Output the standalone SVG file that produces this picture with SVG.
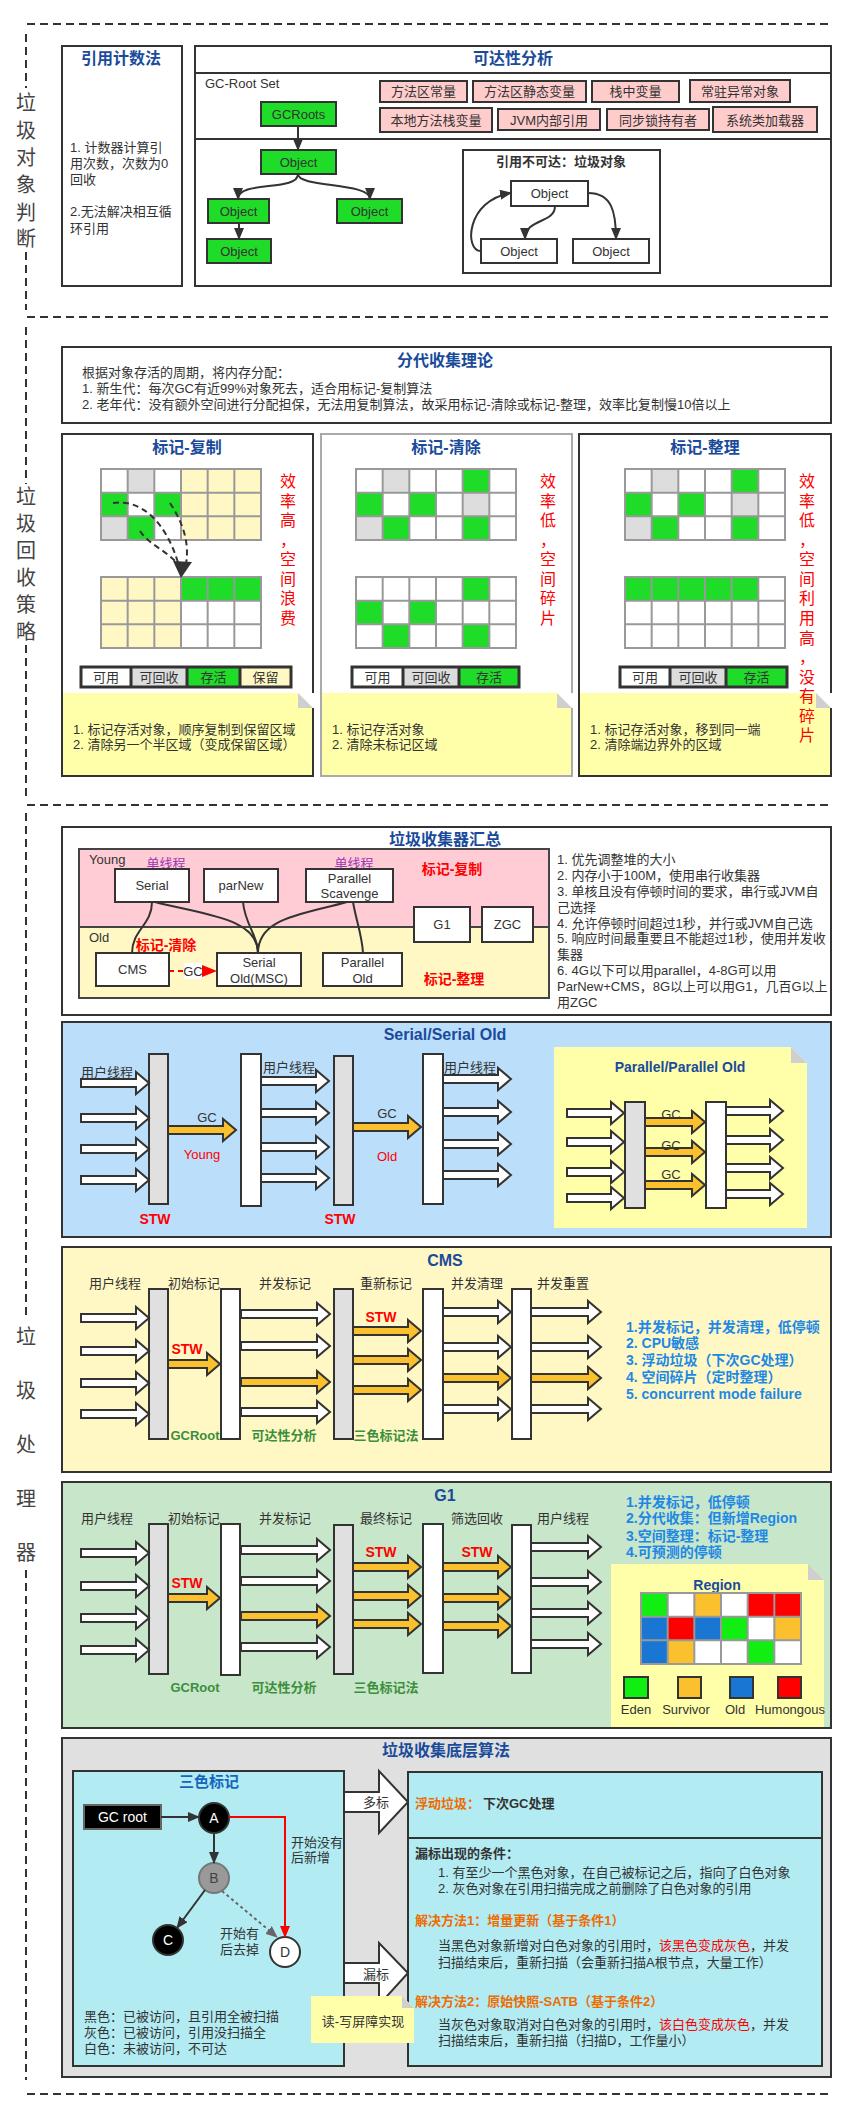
<svg xmlns="http://www.w3.org/2000/svg" width="857" height="2119" viewBox="0 0 857 2119">
<style>
text{font-family:"Liberation Sans","Noto Sans CJK SC",sans-serif;font-size:13px;fill:#333}
.ttl{font-size:16px;font-weight:bold;fill:#1A4B9B;text-anchor:middle}
.c{text-anchor:middle}
.b{font-weight:bold}
.box{fill:#fff;stroke:#333;stroke-width:2}
.pk{fill:#FFCCCC;stroke:#333;stroke-width:2}
.gn{fill:#1EDC28;stroke:#333;stroke-width:2}
.red{fill:#FF0000}
.stw{fill:#FF0000;font-weight:bold;font-size:14px;text-anchor:middle}
.vt{font-size:20px;fill:#444;text-anchor:middle}
.rv{font-size:16px;fill:#FF0000;text-anchor:middle}
.sep{stroke:#333;stroke-width:2;stroke-dasharray:8 5;fill:none}
.bg{fill:#E0E0E0;stroke:#333;stroke-width:2}
.bw{fill:#fff;stroke:#333;stroke-width:2}
.ln{fill:none;stroke:#333;stroke-width:2}
.note{fill:#FFFFAA}
.fold{fill:#CFCFCF}
.grn{fill:#3C8F3C;font-weight:bold;text-anchor:middle}
.blu{fill:#1E88E5;font-weight:bold;font-size:14px}
.or{fill:#EF6C00;font-weight:bold}
.cg{fill:#1EDC28}
.cy{fill:#FFF8C4}
.cd{fill:#DDDDDD}
.pur{fill:#9C36B5;text-anchor:middle}
</style>
<defs>
<marker id="ah" viewBox="0 0 12 10" refX="11" refY="5" markerWidth="12" markerHeight="10" markerUnits="userSpaceOnUse" orient="auto"><path d="M0,0 L12,5 L0,10 Z" fill="#333"/></marker>
<marker id="ahr" viewBox="0 0 12 10" refX="11" refY="5" markerWidth="12" markerHeight="10" markerUnits="userSpaceOnUse" orient="auto"><path d="M0,0 L12,5 L0,10 Z" fill="#FF0000"/></marker>
<marker id="ahg" viewBox="0 0 12 10" refX="11" refY="5" markerWidth="12" markerHeight="10" markerUnits="userSpaceOnUse" orient="auto"><path d="M0,0 L12,5 L0,10 Z" fill="#666"/></marker>
<path id="H68" d="M0,-4H55V-11L68,0L55,11V4H0Z" fill="#fff" stroke="#333" stroke-width="2"/>
<path id="H57" d="M0,-4H44V-11L57,0L44,11V4H0Z" fill="#fff" stroke="#333" stroke-width="2"/>
<path id="H89" d="M0,-4H76V-11L89,0L76,11V4H0Z" fill="#fff" stroke="#333" stroke-width="2"/>
<path id="H70" d="M0,-4H57V-11L70,0L57,11V4H0Z" fill="#fff" stroke="#333" stroke-width="2"/>
<path id="O68" d="M0,-4H55V-11L68,0L55,11V4H0Z" fill="#FBC02D" stroke="#333" stroke-width="2"/>
<path id="O52" d="M0,-4H39V-11L52,0L39,11V4H0Z" fill="#FBC02D" stroke="#333" stroke-width="2"/>
<path id="O60" d="M0,-4H47V-11L60,0L47,11V4H0Z" fill="#FBC02D" stroke="#333" stroke-width="2"/>
<path id="O89" d="M0,-4H76V-11L89,0L76,11V4H0Z" fill="#FBC02D" stroke="#333" stroke-width="2"/>
<path id="O70" d="M0,-4H57V-11L70,0L57,11V4H0Z" fill="#FBC02D" stroke="#333" stroke-width="2"/>
<path id="GL" d="M0,0H160V71H0Z M26.67,0V71 M53.33,0V71 M80,0V71 M106.67,0V71 M133.33,0V71 M0,23.67H160 M0,47.33H160" fill="none" stroke="#999" stroke-width="2"/>
</defs>

<!-- separators -->
<g id="separators">
<path class="sep" d="M27,24H831 M27,317H831 M27,805H831 M27,2094H831"/>
<path class="sep" d="M26,34V88 M26,252V310 M26,327V484 M26,645V800 M26,813V1318 M26,1570V2080"/>
<text class="vt"><tspan x="26" y="110">垃</tspan><tspan x="26" y="138">圾</tspan><tspan x="26" y="165">对</tspan><tspan x="26" y="192">象</tspan><tspan x="26" y="220">判</tspan><tspan x="26" y="246">断</tspan></text>
<text class="vt"><tspan x="26" y="504">垃</tspan><tspan x="26" y="531">圾</tspan><tspan x="26" y="558">回</tspan><tspan x="26" y="585">收</tspan><tspan x="26" y="612">策</tspan><tspan x="26" y="639">略</tspan></text>
<text class="vt"><tspan x="26" y="1344">垃</tspan><tspan x="26" y="1398">圾</tspan><tspan x="26" y="1452">处</tspan><tspan x="26" y="1506">理</tspan><tspan x="26" y="1560">器</tspan></text>
</g>

<!-- ===== Section 1 ===== -->
<g id="refcount">
<rect class="box" x="62" y="46" width="120" height="240"/>
<text class="ttl" x="121" y="64">引用计数法</text>
<text x="70" y="152">1. 计数器计算引</text>
<text x="70" y="168">用次数，次数为0</text>
<text x="70" y="184">回收</text>
<text x="70" y="216">2.无法解决相互循</text>
<text x="70" y="233">环引用</text>
</g>
<g id="reachability">
<rect class="box" x="195" y="46" width="636" height="240"/>
<path class="ln" d="M195,73H831 M195,139H831"/>
<text class="ttl" x="513" y="64">可达性分析</text>
<text x="205" y="88">GC-Root Set</text>
</g>
<g id="roots">
<rect class="pk" x="380" y="81" width="87" height="21"/><text class="c" x="423.5" y="96">方法区常量</text>
<rect class="pk" x="473" y="81" width="113" height="21"/><text class="c" x="529.5" y="96">方法区静态变量</text>
<rect class="pk" x="592" y="81" width="87" height="21"/><text class="c" x="635.5" y="96">栈中变量</text>
<rect class="pk" x="690" y="80" width="100" height="22"/><text class="c" x="740" y="96">常驻异常对象</text>
<rect class="pk" x="380" y="108" width="112" height="24"/><text class="c" x="436" y="125">本地方法栈变量</text>
<rect class="pk" x="498" y="109" width="102" height="21"/><text class="c" x="549" y="125">JVM内部引用</text>
<rect class="pk" x="607" y="109" width="102" height="21"/><text class="c" x="658" y="125">同步锁持有者</text>
<rect class="pk" x="713" y="107" width="104" height="25"/><text class="c" x="765" y="125">系统类加载器</text>
</g>
<g id="gcroots"><rect class="gn" x="261" y="102" width="75" height="24"/><text class="c" x="298.5" y="119">GCRoots</text></g>
<g id="obj1"><rect class="gn" x="261" y="150" width="75" height="24"/><text class="c" x="298.5" y="167">Object</text></g>
<g id="obj2"><rect class="gn" x="208" y="199" width="61" height="24"/><text class="c" x="238.5" y="216">Object</text></g>
<g id="obj3"><rect class="gn" x="337" y="199" width="65" height="24"/><text class="c" x="369.5" y="216">Object</text></g>
<g id="obj4"><rect class="gn" x="207" y="239" width="64" height="24"/><text class="c" x="239" y="256">Object</text></g>
<g id="unreachable">
<rect class="box" x="463" y="150" width="197" height="123"/>
<text class="c b" x="561" y="166">引用不可达：垃圾对象</text>
</g>
<g id="uobj1"><rect class="bw" x="511" y="181" width="77" height="25"/><text class="c" x="549.5" y="198">Object</text></g>
<g id="uobj2"><rect class="bw" x="481" y="239" width="76" height="24"/><text class="c" x="519" y="256">Object</text></g>
<g id="uobj3"><rect class="bw" x="573" y="239" width="76" height="24"/><text class="c" x="611" y="256">Object</text></g>
<g id="connectors1" class="ln">
<path class="ln" marker-end="url(#ah)" d="M298,126V150"/>
<path class="ln" marker-end="url(#ah)" d="M298,174C298,192 238,180 238,199"/>
<path class="ln" marker-end="url(#ah)" d="M298,174C298,188 370,182 370,199"/>
<path class="ln" marker-end="url(#ah)" d="M239,223V239"/>
<path class="ln" marker-end="url(#ah)" d="M555,206C555,224 525,218 525,239"/>
<path class="ln" marker-end="url(#ah)" d="M588,193C612,193 616,212 616,239"/>
<path class="ln" marker-end="url(#ah)" d="M481,251C464,251 466,200 511,193"/>
</g>

<!-- ===== Section 2 ===== -->
<g id="generational">
<rect class="box" x="62" y="347" width="769" height="76"/>
<text class="ttl" x="445" y="366">分代收集理论</text>
<text x="82" y="377">根据对象存活的周期，将内存分配：</text>
<text x="82" y="393">1. 新生代：每次GC有近99%对象死去，适合用标记-复制算法</text>
<text x="82" y="409">2. 老年代：没有额外空间进行分配担保，无法用复制算法，故采用标记-清除或标记-整理，效率比复制慢10倍以上</text>
</g>

<g id="markcopy">
<rect x="62" y="434" width="251" height="342" fill="#fff"/>
<text class="ttl" x="187" y="453">标记-复制</text>
<rect x="101" y="469" width="160" height="71" fill="#fff"/>
<rect class="cy" x="181" y="469" width="80" height="71"/>
<rect class="cd" x="127.67" y="469" width="26.67" height="23.67"/>
<rect class="cg" x="101" y="492.67" width="26.67" height="23.67"/>
<rect class="cg" x="154.33" y="492.67" width="26.67" height="23.67"/>
<rect class="cd" x="101" y="516.33" width="26.67" height="23.67"/>
<rect class="cg" x="127.67" y="516.33" width="26.67" height="23.67"/>
<use href="#GL" x="101" y="469"/>
<rect x="101" y="577" width="160" height="71" fill="#fff"/>
<rect class="cy" x="101" y="577" width="80" height="71"/>
<rect class="cg" x="181" y="577" width="80" height="23.67"/>
<use href="#GL" x="101" y="577"/>
<g fill="none" stroke="#333" stroke-width="2" stroke-dasharray="6 4">
<path d="M113,503C140,499 166,520 179,566"/>
<path d="M140,531C150,546 170,552 179,566"/>
<path d="M170,503C181,520 190,540 186,564"/>
</g>
<polygon points="181,578 173,561 192,562" fill="#333"/>
<text class="rv"><tspan x="288" y="487">效</tspan><tspan x="288" y="507">率</tspan><tspan x="288" y="526">高</tspan><tspan x="288" y="546">，</tspan><tspan x="288" y="565">空</tspan><tspan x="288" y="585">间</tspan><tspan x="288" y="604">浪</tspan><tspan x="288" y="624">费</tspan></text>
<rect x="81" y="667" width="50" height="20" fill="#fff"/>
<rect class="cd" x="131" y="667" width="56" height="20"/>
<rect class="cg" x="187" y="667" width="53" height="20"/>
<rect class="cy" x="240" y="667" width="51" height="20"/>
<path d="M81,667H291V687H81Z M131,667V687 M187,667V687 M240,667V687" fill="none" stroke="#333" stroke-width="3"/>
<text class="c" x="106" y="682">可用</text>
<text class="c" x="159" y="682">可回收</text>
<text class="c" x="213.5" y="682">存活</text>
<text class="c" x="265.5" y="682">保留</text>
<path class="note" d="M62,693H298L313,708V776H62Z"/>
<path class="fold" d="M298,693V708H313Z"/>
<path class="ln" d="M313,708V776H62V434H313V693"/>
<text x="73" y="734">1. 标记存活对象，顺序复制到保留区域</text>
<text x="73" y="749">2. 清除另一个半区域（变成保留区域）</text>
</g>

<g id="marksweep">
<rect x="321" y="434" width="251" height="342" fill="#fff"/>
<text class="ttl" x="446" y="453">标记-清除</text>
<rect x="356" y="469" width="160" height="71" fill="#fff"/>
<rect class="cd" x="382.67" y="469" width="26.67" height="23.67"/>
<rect class="cg" x="462.67" y="469" width="26.67" height="23.67"/>
<rect class="cg" x="356" y="492.67" width="26.67" height="23.67"/>
<rect class="cg" x="409.33" y="492.67" width="26.67" height="23.67"/>
<rect class="cd" x="462.67" y="492.67" width="26.67" height="23.67"/>
<rect class="cd" x="356" y="516.33" width="26.67" height="23.67"/>
<rect class="cg" x="382.67" y="516.33" width="26.67" height="23.67"/>
<rect class="cg" x="462.67" y="516.33" width="26.67" height="23.67"/>
<use href="#GL" x="356" y="469"/>
<rect x="356" y="577" width="160" height="71" fill="#fff"/>
<rect class="cg" x="462.67" y="577" width="26.67" height="23.67"/>
<rect class="cg" x="356" y="600.67" width="26.67" height="23.67"/>
<rect class="cg" x="409.33" y="600.67" width="26.67" height="23.67"/>
<rect class="cg" x="382.67" y="624.33" width="26.67" height="23.67"/>
<rect class="cg" x="462.67" y="624.33" width="26.67" height="23.67"/>
<use href="#GL" x="356" y="577"/>
<text class="rv"><tspan x="548" y="487">效</tspan><tspan x="548" y="507">率</tspan><tspan x="548" y="526">低</tspan><tspan x="548" y="546">，</tspan><tspan x="548" y="565">空</tspan><tspan x="548" y="585">间</tspan><tspan x="548" y="604">碎</tspan><tspan x="548" y="624">片</tspan></text>
<rect x="352" y="667" width="51" height="20" fill="#fff"/>
<rect class="cd" x="403" y="667" width="56" height="20"/>
<rect class="cg" x="459" y="667" width="60" height="20"/>
<path d="M352,667H519V687H352Z M403,667V687 M459,667V687" fill="none" stroke="#333" stroke-width="3"/>
<text class="c" x="377.5" y="682">可用</text>
<text class="c" x="431" y="682">可回收</text>
<text class="c" x="489" y="682">存活</text>
<path class="note" d="M321,693H557L572,708V776H321Z"/>
<path class="fold" d="M557,693V708H572Z"/>
<path d="M572,708V776H321V434H572V693" fill="none" stroke="#AAAAAA" stroke-width="2"/>
<text x="332" y="734">1. 标记存活对象</text>
<text x="332" y="749">2. 清除未标记区域</text>
</g>

<g id="markcompact">
<rect x="579" y="434" width="252" height="342" fill="#fff"/>
<text class="ttl" x="705" y="453">标记-整理</text>
<rect x="625" y="469" width="160" height="71" fill="#fff"/>
<rect class="cd" x="651.67" y="469" width="26.67" height="23.67"/>
<rect class="cg" x="731.67" y="469" width="26.67" height="23.67"/>
<rect class="cg" x="625" y="492.67" width="26.67" height="23.67"/>
<rect class="cg" x="678.33" y="492.67" width="26.67" height="23.67"/>
<rect class="cd" x="731.67" y="492.67" width="26.67" height="23.67"/>
<rect class="cd" x="625" y="516.33" width="26.67" height="23.67"/>
<rect class="cg" x="651.67" y="516.33" width="26.67" height="23.67"/>
<rect class="cg" x="731.67" y="516.33" width="26.67" height="23.67"/>
<use href="#GL" x="625" y="469"/>
<rect x="625" y="577" width="160" height="71" fill="#fff"/>
<rect class="cg" x="625" y="577" width="133.33" height="23.67"/>
<use href="#GL" x="625" y="577"/>
<rect x="620" y="667" width="50" height="20" fill="#fff"/>
<rect class="cd" x="670" y="667" width="56" height="20"/>
<rect class="cg" x="726" y="667" width="61" height="20"/>
<path d="M620,667H787V687H620Z M670,667V687 M726,667V687" fill="none" stroke="#333" stroke-width="3"/>
<text class="c" x="645" y="682">可用</text>
<text class="c" x="698" y="682">可回收</text>
<text class="c" x="756.5" y="682">存活</text>
<path class="note" d="M579,693H816L831,708V776H579Z"/>
<path class="fold" d="M816,693V708H831Z"/>
<path class="ln" d="M831,708V776H579V434H831V693"/>
<text x="590" y="734">1. 标记存活对象，移到同一端</text>
<text x="590" y="749">2. 清除端边界外的区域</text>
<text class="rv"><tspan x="807" y="487">效</tspan><tspan x="807" y="507">率</tspan><tspan x="807" y="526">低</tspan><tspan x="807" y="546">，</tspan><tspan x="807" y="565">空</tspan><tspan x="807" y="585">间</tspan><tspan x="807" y="604">利</tspan><tspan x="807" y="624">用</tspan><tspan x="807" y="644">高</tspan><tspan x="807" y="663">，</tspan><tspan x="807" y="683">没</tspan><tspan x="807" y="702">有</tspan><tspan x="807" y="722">碎</tspan><tspan x="807" y="741">片</tspan></text>
</g>

<!-- ===== Section 3: collectors summary ===== -->
<g id="summary">
<rect class="box" x="62" y="827" width="769" height="188"/>
<text class="ttl" x="445" y="845">垃圾收集器汇总</text>
<rect x="79" y="849" width="470" height="78" fill="#FFCCD5" stroke="#444" stroke-width="2"/>
<rect x="79" y="927" width="470" height="71" fill="#FFF8C4" stroke="#444" stroke-width="2"/>
<text x="89" y="864" fill="#444">Young</text>
<text x="89" y="942" fill="#444">Old</text>
<text class="pur" x="166" y="868">单线程</text>
<text class="pur" x="354" y="868">单线程</text>
<text class="stw" x="452" y="874">标记-复制</text>
<text class="stw" x="166" y="950">标记-清除</text>
<text class="stw" x="454" y="984">标记-整理</text>
<text x="557" y="864">1. 优先调整堆的大小</text>
<text x="557" y="880">2. 内存小于100M，使用串行收集器</text>
<text x="557" y="896">3. 单核且没有停顿时间的要求，串行或JVM自</text>
<text x="557" y="912">己选择</text>
<text x="557" y="928">4. 允许停顿时间超过1秒，并行或JVM自己选</text>
<text x="557" y="943">5. 响应时间最重要且不能超过1秒，使用并发收</text>
<text x="557" y="959">集器</text>
<text x="557" y="975">6. 4G以下可以用parallel，4-8G可以用</text>
<text x="557" y="991">ParNew+CMS，8G以上可以用G1，几百G以上</text>
<text x="557" y="1007">用ZGC</text>
</g>
<g id="connectors2">
<path class="ln" d="M152,902C152,925 132,930 132,953"/>
<path class="ln" d="M155,902C205,915 258,918 258,953"/>
<path class="ln" d="M243,902C245,925 258,935 258,953"/>
<path class="ln" d="M347,902C300,915 258,918 258,953"/>
<path class="ln" d="M353,902C356,920 362,935 363,953"/>
<path d="M169,971H186" stroke="#FF0000" stroke-width="2" stroke-dasharray="5 4" fill="none"/>
<rect x="184" y="963" width="18" height="16" fill="#fff"/>
<text class="c" x="193" y="976">GC</text>
<polygon points="202,965 217,971 202,977" fill="#FF0000"/>
</g>
<g id="serial"><rect class="bw" x="115" y="869" width="74" height="33"/><text class="c" x="152" y="890">Serial</text></g>
<g id="parnew"><rect class="bw" x="204" y="869" width="74" height="33"/><text class="c" x="241" y="890">parNew</text></g>
<g id="pscavenge"><rect class="bw" x="306" y="869" width="87" height="33"/><text class="c" x="349.5" y="883">Parallel</text><text class="c" x="349.5" y="898">Scavenge</text></g>
<g id="g1box"><rect class="bw" x="414" y="907" width="56" height="35"/><text class="c" x="442" y="929">G1</text></g>
<g id="zgc"><rect class="bw" x="482" y="907" width="51" height="35"/><text class="c" x="507.5" y="929">ZGC</text></g>
<g id="cms"><rect class="bw" x="96" y="953" width="73" height="33"/><text class="c" x="132.5" y="974">CMS</text></g>
<g id="serialold"><rect class="bw" x="217" y="953" width="84" height="33"/><text class="c" x="259" y="967">Serial</text><text class="c" x="259" y="983">Old(MSC)</text></g>
<g id="parallelold"><rect class="bw" x="323" y="953" width="79" height="33"/><text class="c" x="362.5" y="967">Parallel</text><text class="c" x="362.5" y="983">Old</text></g>

<!-- Serial / Serial Old -->
<g id="serialpanel">
<rect x="62" y="1022" width="769" height="215" fill="#BBDEFB" stroke="#333" stroke-width="2"/>
<text class="ttl" x="445" y="1040">Serial/Serial Old</text>
<rect class="bg" x="149" y="1054" width="19" height="150"/>
<rect class="bw" x="241" y="1054" width="20" height="152"/>
<rect class="bg" x="334" y="1056" width="19" height="149"/>
<rect class="bw" x="423" y="1054" width="20" height="150"/>
<use href="#H68" x="81" y="1083"/><use href="#H68" x="81" y="1118"/><use href="#H68" x="81" y="1149"/><use href="#H68" x="81" y="1180"/>
<use href="#O68" x="168" y="1130"/>
<use href="#H68" x="261" y="1081"/><use href="#H68" x="261" y="1113"/><use href="#H68" x="261" y="1147"/><use href="#H68" x="261" y="1178"/>
<use href="#O68" x="353" y="1127"/>
<use href="#H68" x="443" y="1079"/><use href="#H68" x="443" y="1112"/><use href="#H68" x="443" y="1144"/><use href="#H68" x="443" y="1175"/>
<text x="81" y="1077">用户线程</text>
<text x="263" y="1072">用户线程</text>
<text x="444" y="1072">用户线程</text>
<text class="c" x="207" y="1122">GC</text>
<text class="c red" x="202" y="1159">Young</text>
<text class="c" x="387" y="1118">GC</text>
<text class="c red" x="387" y="1161">Old</text>
<text class="stw" x="155" y="1224">STW</text>
<text class="stw" x="340" y="1224">STW</text>
</g>
<g id="parallelnote">
<path class="note" d="M554,1047H791L807,1063V1228H554Z"/>
<path class="fold" d="M791,1047V1063H807Z"/>
<text class="ttl" x="680" y="1072" style="font-size:14px">Parallel/Parallel Old</text>
<rect class="bg" x="625" y="1102" width="20" height="106"/>
<rect class="bw" x="706" y="1102" width="20" height="106"/>
<use href="#H57" x="567" y="1113"/><use href="#H57" x="567" y="1142"/><use href="#H57" x="567" y="1172"/><use href="#H57" x="567" y="1198"/>
<use href="#O60" x="645" y="1122"/><use href="#O60" x="645" y="1152"/><use href="#O60" x="645" y="1185"/>
<use href="#H57" x="726" y="1111"/><use href="#H57" x="726" y="1140"/><use href="#H57" x="726" y="1168"/><use href="#H57" x="726" y="1194"/>
<text class="c" x="671" y="1119">GC</text>
<text class="c" x="671" y="1150">GC</text>
<text class="c" x="671" y="1179">GC</text>
</g>

<!-- CMS -->
<g id="cmspanel">
<rect x="62" y="1247" width="769" height="225" fill="#FFF8C5" stroke="#333" stroke-width="2"/>
<text class="ttl" x="445" y="1266">CMS</text>
<text class="c" x="115" y="1288">用户线程</text>
<text class="c" x="194" y="1288">初始标记</text>
<text class="c" x="285" y="1288">并发标记</text>
<text class="c" x="386" y="1288">重新标记</text>
<text class="c" x="477" y="1288">并发清理</text>
<text class="c" x="563" y="1288">并发重置</text>
<rect class="bg" x="149" y="1289" width="19" height="150"/>
<rect class="bw" x="221" y="1289" width="19" height="150"/>
<rect class="bg" x="334" y="1289" width="19" height="150"/>
<rect class="bw" x="423" y="1289" width="20" height="150"/>
<rect class="bw" x="512" y="1289" width="19" height="150"/>
<use href="#H68" x="81" y="1318"/><use href="#H68" x="81" y="1351"/><use href="#H68" x="81" y="1383"/><use href="#H68" x="81" y="1414"/>
<use href="#O52" x="168" y="1364"/>
<use href="#H89" x="241" y="1314"/><use href="#H89" x="241" y="1346"/><use href="#O89" x="241" y="1382"/><use href="#H89" x="241" y="1412"/>
<use href="#O68" x="353" y="1331"/><use href="#O68" x="353" y="1360"/><use href="#O68" x="353" y="1390"/>
<use href="#H68" x="443" y="1312"/><use href="#H68" x="443" y="1347"/><use href="#O68" x="443" y="1378"/><use href="#H68" x="443" y="1409"/>
<use href="#H70" x="531" y="1312"/><use href="#H70" x="531" y="1347"/><use href="#O70" x="531" y="1378"/><use href="#H70" x="531" y="1409"/>
<text class="stw" x="187" y="1354">STW</text>
<text class="stw" x="381" y="1322">STW</text>
<text class="grn" x="195" y="1440">GCRoot</text>
<text class="grn" x="284" y="1440">可达性分析</text>
<text class="grn" x="386" y="1440">三色标记法</text>
<text class="blu" x="626" y="1332">1.并发标记，并发清理，低停顿</text>
<text class="blu" x="626" y="1348">2. CPU敏感</text>
<text class="blu" x="626" y="1365">3. 浮动垃圾（下次GC处理）</text>
<text class="blu" x="626" y="1382">4. 空间碎片（定时整理）</text>
<text class="blu" x="626" y="1399">5. concurrent mode failure</text>
</g>

<!-- G1 -->
<g id="g1panel">
<rect x="62" y="1482" width="769" height="246" fill="#C8E6C9" stroke="#333" stroke-width="2"/>
<text class="ttl" x="445" y="1501">G1</text>
<text class="c" x="107" y="1523">用户线程</text>
<text class="c" x="194" y="1523">初始标记</text>
<text class="c" x="285" y="1523">并发标记</text>
<text class="c" x="386" y="1523">最终标记</text>
<text class="c" x="477" y="1523">筛选回收</text>
<text class="c" x="563" y="1523">用户线程</text>
<rect class="bg" x="149" y="1524" width="19" height="150"/>
<rect class="bw" x="221" y="1524" width="19" height="151"/>
<rect class="bg" x="334" y="1525" width="19" height="149"/>
<rect class="bw" x="423" y="1524" width="20" height="149"/>
<rect class="bw" x="512" y="1525" width="19" height="148"/>
<use href="#H68" x="81" y="1553"/><use href="#H68" x="81" y="1586"/><use href="#H68" x="81" y="1618"/><use href="#H68" x="81" y="1650"/>
<use href="#O52" x="168" y="1598"/>
<use href="#H89" x="241" y="1550"/><use href="#H89" x="241" y="1581"/><use href="#O89" x="241" y="1616"/><use href="#H89" x="241" y="1647"/>
<use href="#O68" x="353" y="1567"/><use href="#O68" x="353" y="1596"/><use href="#O68" x="353" y="1624"/>
<use href="#O68" x="443" y="1567"/><use href="#O68" x="443" y="1598"/><use href="#O68" x="443" y="1626"/>
<use href="#H70" x="531" y="1547"/><use href="#H70" x="531" y="1582"/><use href="#H70" x="531" y="1613"/><use href="#H70" x="531" y="1644"/>
<text class="stw" x="187" y="1588">STW</text>
<text class="stw" x="381" y="1557">STW</text>
<text class="stw" x="477" y="1557">STW</text>
<text class="grn" x="195" y="1692">GCRoot</text>
<text class="grn" x="284" y="1692">可达性分析</text>
<text class="grn" x="386" y="1692">三色标记法</text>
<text class="blu" x="626" y="1507">1.并发标记，低停顿</text>
<text class="blu" x="626" y="1523">2.分代收集：但新增Region</text>
<text class="blu" x="626" y="1541">3.空间整理：标记-整理</text>
<text class="blu" x="626" y="1557">4.可预测的停顿</text>
</g>
<g id="regionnote">
<path class="note" d="M611,1564H808L824,1580V1727H611Z"/>
<path class="fold" d="M808,1564V1580H824Z"/>
<text class="ttl" x="717" y="1590" style="font-size:14px">Region</text>
<rect x="641" y="1593" width="160" height="71" fill="#fff"/>
<rect x="641" y="1593" width="26.67" height="23.67" fill="#11EE11"/>
<rect x="694.33" y="1593" width="26.67" height="23.67" fill="#FBC02D"/>
<rect x="747.67" y="1593" width="53.33" height="23.67" fill="#FF0000"/>
<rect x="641" y="1616.67" width="26.67" height="23.67" fill="#1976D2"/>
<rect x="667.67" y="1616.67" width="26.67" height="23.67" fill="#FF0000"/>
<rect x="694.33" y="1616.67" width="26.67" height="23.67" fill="#1976D2"/>
<rect x="721" y="1616.67" width="26.67" height="23.67" fill="#11EE11"/>
<rect x="774.33" y="1616.67" width="26.67" height="23.67" fill="#FBC02D"/>
<rect x="641" y="1640.33" width="26.67" height="23.67" fill="#1976D2"/>
<rect x="667.67" y="1640.33" width="26.67" height="23.67" fill="#FBC02D"/>
<rect x="747.67" y="1640.33" width="26.67" height="23.67" fill="#11EE11"/>
<use href="#GL" x="641" y="1593"/>
<rect x="624" y="1677" width="24" height="21" fill="#11EE11" stroke="#333" stroke-width="2"/>
<rect x="678" y="1677" width="23" height="21" fill="#FBC02D" stroke="#333" stroke-width="2"/>
<rect x="730" y="1677" width="23" height="21" fill="#1976D2" stroke="#333" stroke-width="2"/>
<rect x="778" y="1677" width="23" height="21" fill="#FF0000" stroke="#333" stroke-width="2"/>
<text class="c" x="636" y="1714">Eden</text>
<text class="c" x="686" y="1714">Survivor</text>
<text class="c" x="735" y="1714">Old</text>
<text class="c" x="790" y="1714">Humongous</text>
</g>

<!-- Bottom algorithms -->
<g id="algorithms">
<rect class="bg" x="62" y="1738" width="769" height="339"/>
<text class="ttl" x="446" y="1756">垃圾收集底层算法</text>
</g>
<g id="tricolor">
<rect x="73" y="1771" width="271" height="295" fill="#B2EBF2" stroke="#333" stroke-width="2"/>
<text class="ttl" x="209" y="1787" style="font-size:15px;fill:#1565C0">三色标记</text>
<text x="291" y="1847" fill="#555">开始没有</text>
<text x="291" y="1862" fill="#555">后新增</text>
<text x="220" y="1938" fill="#555">开始有</text>
<text x="220" y="1954" fill="#555">后去掉</text>
<text x="84" y="2021">黑色：已被访问，且引用全被扫描</text>
<text x="84" y="2037">灰色：已被访问，引用没扫描全</text>
<text x="84" y="2053">白色：未被访问，不可达</text>
</g>
<g id="gcroot2"><rect x="84" y="1805" width="77" height="24" fill="#000" stroke="#666" stroke-width="2"/><text class="c" x="122.5" y="1822" style="fill:#fff;font-size:14px">GC root</text></g>
<g id="nodeA"><circle cx="214" cy="1818" r="15" fill="#000" stroke="#333" stroke-width="2"/><text class="c" x="214" y="1823" style="fill:#fff;font-size:14px">A</text></g>
<g id="nodeB"><circle cx="214" cy="1878" r="15" fill="#999" stroke="#777" stroke-width="2"/><text class="c" x="214" y="1883" style="fill:#444;font-size:14px">B</text></g>
<g id="nodeC"><circle cx="168" cy="1940" r="15" fill="#000" stroke="#333" stroke-width="2"/><text class="c" x="168" y="1945" style="fill:#fff;font-size:14px">C</text></g>
<g id="nodeD"><circle cx="285" cy="1952" r="15" fill="#fff" stroke="#333" stroke-width="2"/><text class="c" x="285" y="1957" style="font-size:14px">D</text></g>
<g id="connectors3">
<path class="ln" marker-end="url(#ah)" d="M161,1817H199"/>
<path class="ln" marker-end="url(#ah)" d="M214,1833V1863"/>
<path class="ln" marker-end="url(#ah)" d="M205,1890L177,1928"/>
<path d="M222,1891L277,1937" fill="none" stroke="#666" stroke-width="2" stroke-dasharray="3 3" marker-end="url(#ahg)"/>
<path d="M229,1817H285V1937" fill="none" stroke="#FF0000" stroke-width="2" marker-end="url(#ahr)"/>
</g>
<g id="arrowMulti">
<polygon points="344,1792 379,1792 379,1771 408,1802 379,1833 379,1812 344,1812" fill="#fff" stroke="#333" stroke-width="2"/>
<text class="c" x="376" y="1807">多标</text>
</g>
<g id="arrowMiss">
<polygon points="344,1963 379,1963 379,1943 408,1973 379,2005 379,1983 344,1983" fill="#fff" stroke="#333" stroke-width="2"/>
<text class="c" x="376" y="1979">漏标</text>
</g>
<g id="explain">
<rect x="408" y="1772" width="414" height="294" fill="#B2EBF2" stroke="#333" stroke-width="2"/>
<path class="ln" d="M408,1838H822"/>
<text class="or" x="415" y="1808">浮动垃圾：</text>
<text class="b" x="483" y="1808" fill="#222">下次GC处理</text>
<text class="b" x="415" y="1858" fill="#222">漏标出现的条件：</text>
<text x="438" y="1877">1. 有至少一个黑色对象，在自己被标记之后，指向了白色对象</text>
<text x="438" y="1893">2. 灰色对象在引用扫描完成之前删除了白色对象的引用</text>
<text class="or" x="415" y="1925">解决方法1：增量更新（基于条件1）</text>
<text x="438" y="1950">当黑色对象新增对白色对象的引用时，<tspan class="red">该黑色变成灰色</tspan>，并发</text>
<text x="438" y="1967">扫描结束后，重新扫描（会重新扫描A根节点，大量工作）</text>
<text class="or" x="415" y="2006">解决方法2：原始快照-SATB（基于条件2）</text>
<text x="438" y="2029">当灰色对象取消对白色对象的引用时，<tspan class="red">该白色变成灰色</tspan>，并发</text>
<text x="438" y="2045">扫描结束后，重新扫描（扫描D，工作量小）</text>
</g>
<g id="barriernote">
<path class="note" d="M311,1996H402L414,2008V2043H311Z"/>
<path class="fold" d="M402,1996V2008H414Z"/>
<text class="c" x="363" y="2026">读-写屏障实现</text>
</g>
</svg>
